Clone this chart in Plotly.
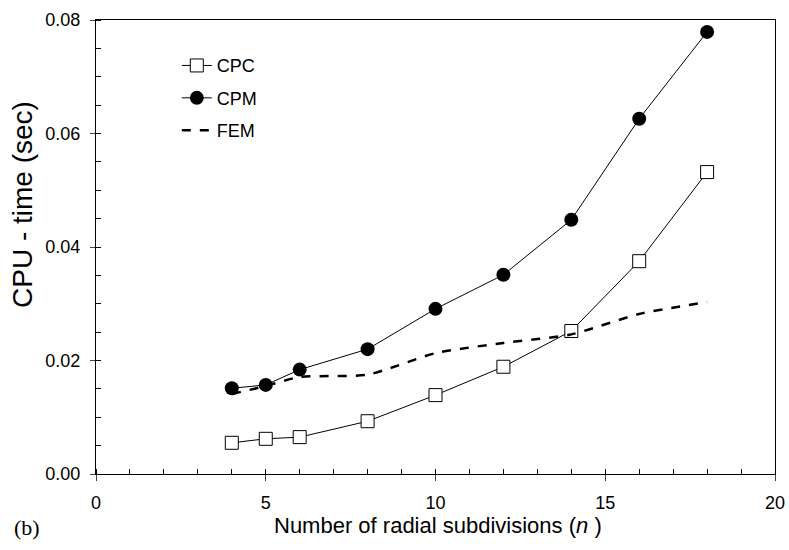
import plotly.graph_objects as go

n_vals = [4, 5, 6, 8, 10, 12, 14, 16, 18]
cpc = [0.0055, 0.0062, 0.0065, 0.0093, 0.0139, 0.0189, 0.0252, 0.0375, 0.0532]
cpm = [0.0151, 0.0157, 0.0184, 0.0220, 0.0291, 0.0351, 0.0448, 0.0626, 0.0779]
fem = [0.0141, 0.0155, 0.0171, 0.0175, 0.0213, 0.0231, 0.0246, 0.0282, 0.0303]

fig = go.Figure()
fig.add_trace(go.Scatter(x=n_vals, y=cpc, name="CPC", mode="lines+markers", legendgroup="a",
                         line=dict(color="black", width=1),
                         marker=dict(symbol="square", size=13, color="white",
                                     line=dict(color="black", width=1))))
fig.add_trace(go.Scatter(x=n_vals, y=cpm, name="CPM", mode="lines+markers", legendgroup="b",
                         line=dict(color="black", width=1),
                         marker=dict(symbol="circle", size=14, color="black")))
fig.add_trace(go.Scatter(x=n_vals, y=fem, name="FEM", mode="lines", legendgroup="c",
                         line=dict(color="black", width=2.5, dash="dash", shape="spline", smoothing=0.6)))

font = "Liberation Sans, Arial, sans-serif"
L, R, T, B = 96, 14, 20, 76
pw = 789 - L - R
ph = 550 - T - B
fig.update_layout(
    width=789, height=550,
    margin=dict(l=L, r=R, t=T, b=B),
    paper_bgcolor="white", plot_bgcolor="white",
    font=dict(family=font, color="black", size=18),
    showlegend=True,
    legend=dict(x=0.119, y=0.94, xanchor="left", yanchor="top",
                font=dict(size=18, family=font), bgcolor="rgba(0,0,0,0)",
                tracegroupgap=6),
    xaxis=dict(range=[0, 20], tickvals=[0, 5, 10, 15, 20], ticks="outside", ticklen=6,
               showline=True, linecolor="black", linewidth=1, mirror=True, automargin=False,
               showgrid=False, zeroline=False, tickfont=dict(size=18), ticklabelstandoff=6,
               minor=dict(dtick=1, ticks="inside", ticklen=5, tickcolor="black", showgrid=False)),
    yaxis=dict(range=[0, 0.08], tickvals=[0, 0.02, 0.04, 0.06, 0.08], tickformat=".2f",
               ticks="outside", ticklen=5, automargin=False,
               showline=True, linecolor="black", linewidth=1, mirror=True,
               showgrid=False, zeroline=False, tickfont=dict(size=18), ticklabelstandoff=6,
               minor=dict(dtick=0.005, ticks="inside", ticklen=5, tickcolor="black", showgrid=False)),
)
fig.add_annotation(text="Number of radial subdivisions (<i>n</i> )", xref="paper", yref="paper",
                   x=(438 - L) / pw, y=(T + ph - 525) / ph, xanchor="center", yanchor="middle",
                   showarrow=False, font=dict(family=font, size=22))
fig.add_annotation(text="CPU - time (sec)", textangle=-90, xref="paper", yref="paper",
                   x=(23 - L) / pw, y=(T + ph - 205) / ph, xanchor="center", yanchor="middle",
                   showarrow=False, font=dict(family=font, size=28))
fig.add_annotation(text="(b)", xref="paper", yref="paper", x=(12 - L) / pw, y=(T + ph - 527) / ph,
                   xanchor="left", yanchor="middle", showarrow=False,
                   font=dict(family="Liberation Serif, Times New Roman, serif", size=22))
fig.write_html("out.html")
